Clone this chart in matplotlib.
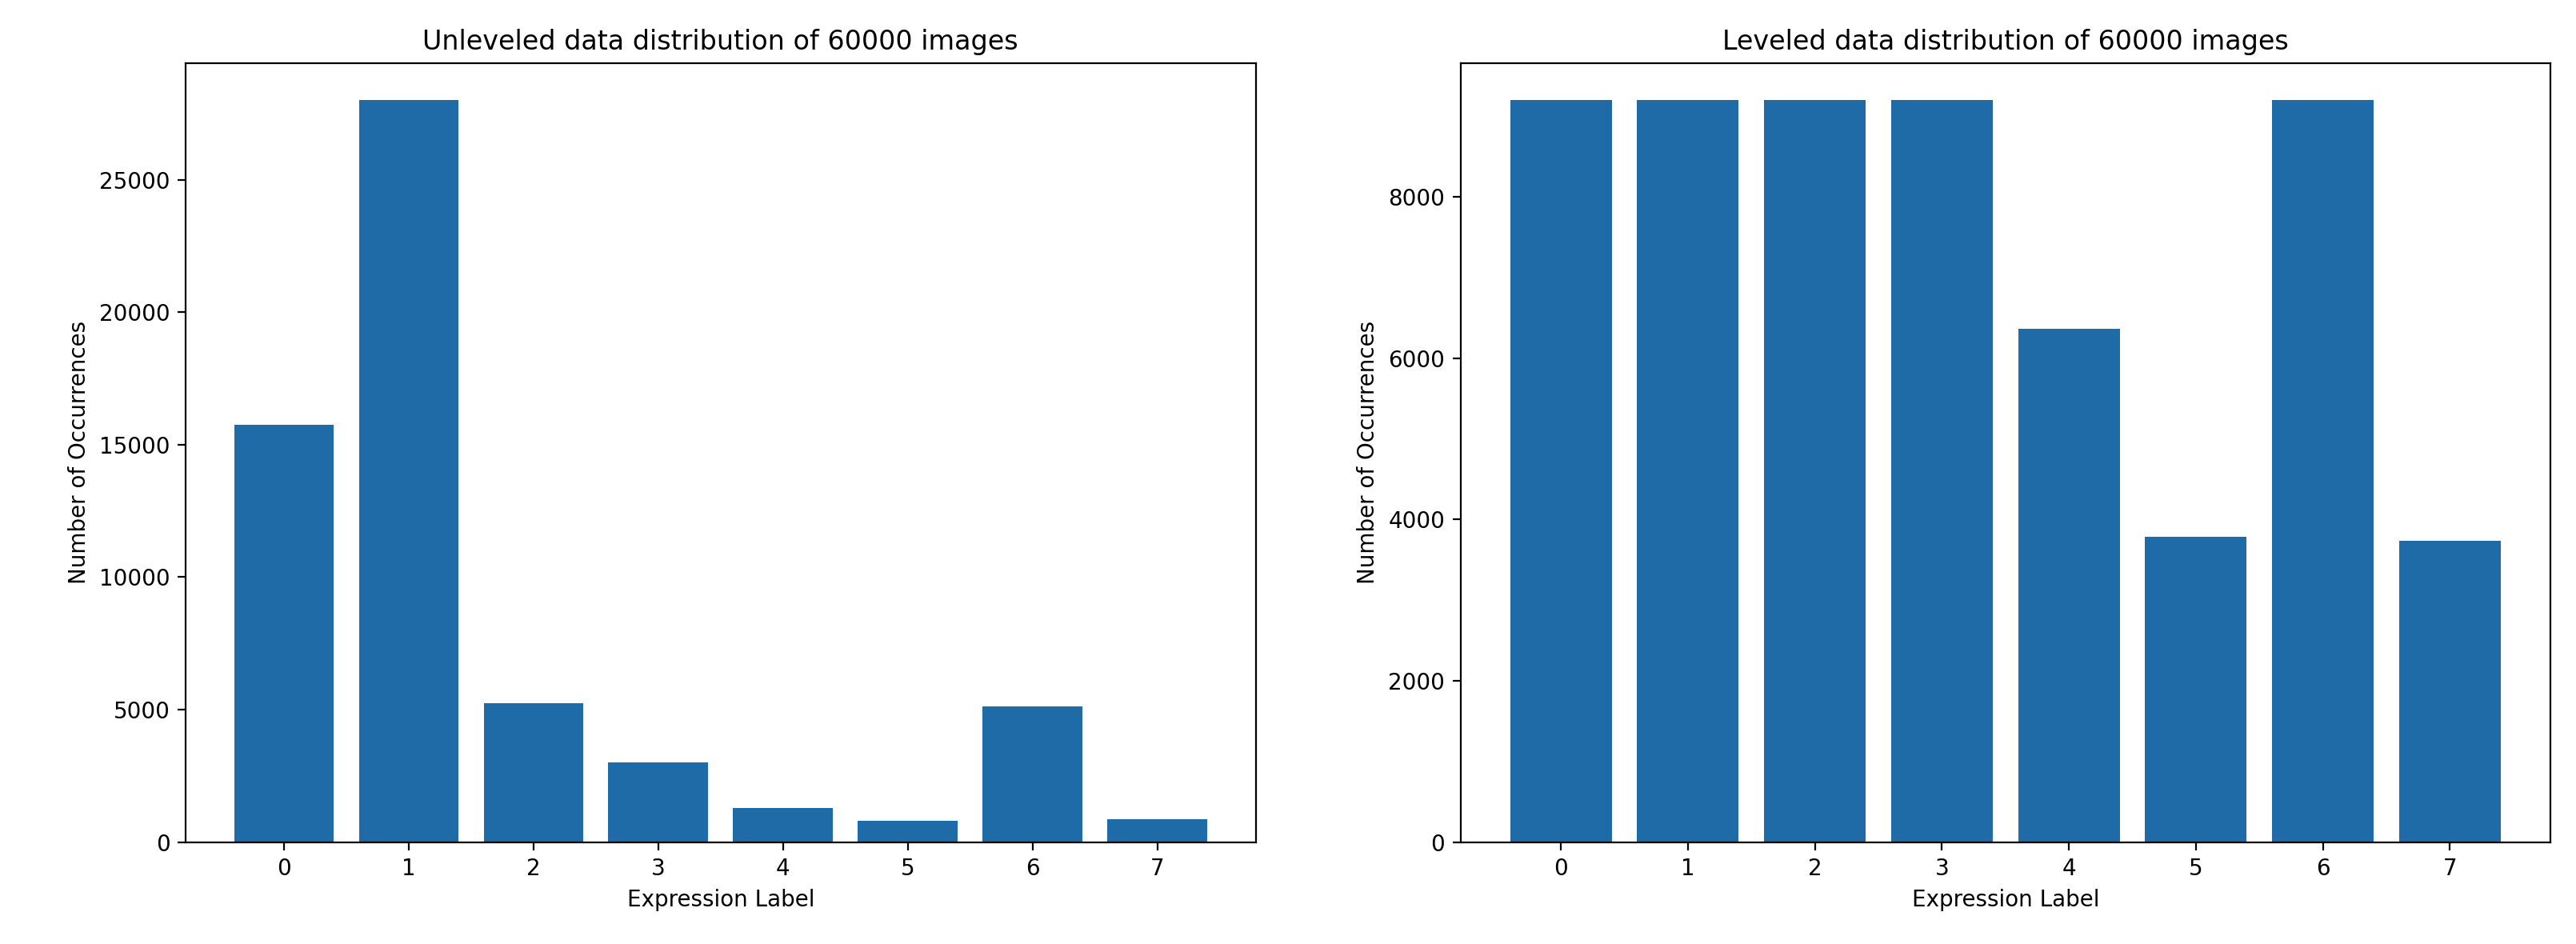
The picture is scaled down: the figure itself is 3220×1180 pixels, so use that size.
import matplotlib
matplotlib.use("Agg")
import matplotlib.pyplot as plt

labels = [0, 1, 2, 3, 4, 5, 6, 7]
unleveled = [15750, 28000, 5250, 3000, 1300, 800, 5125, 875]
leveled = [9200, 9200, 9200, 9200, 6370, 3790, 9200, 3740]

fig = plt.figure(figsize=(16.1, 5.9), dpi=200)
ax1 = fig.add_axes([0.072, 0.108, 0.4155, 0.825])
ax2 = fig.add_axes([0.567, 0.108, 0.423, 0.825])

for ax, vals, title in [
    (ax1, unleveled, "Unleveled data distribution of 60000 images"),
    (ax2, leveled, "Leveled data distribution of 60000 images"),
]:
    ax.bar(labels, vals, color="#1f6ba8")
    ax.set_xticks(labels)
    ax.set_title(title)
    ax.set_xlabel("Expression Label")
    ax.set_ylabel("Number of Occurrences")

fig.savefig("out.png", dpi=200)
